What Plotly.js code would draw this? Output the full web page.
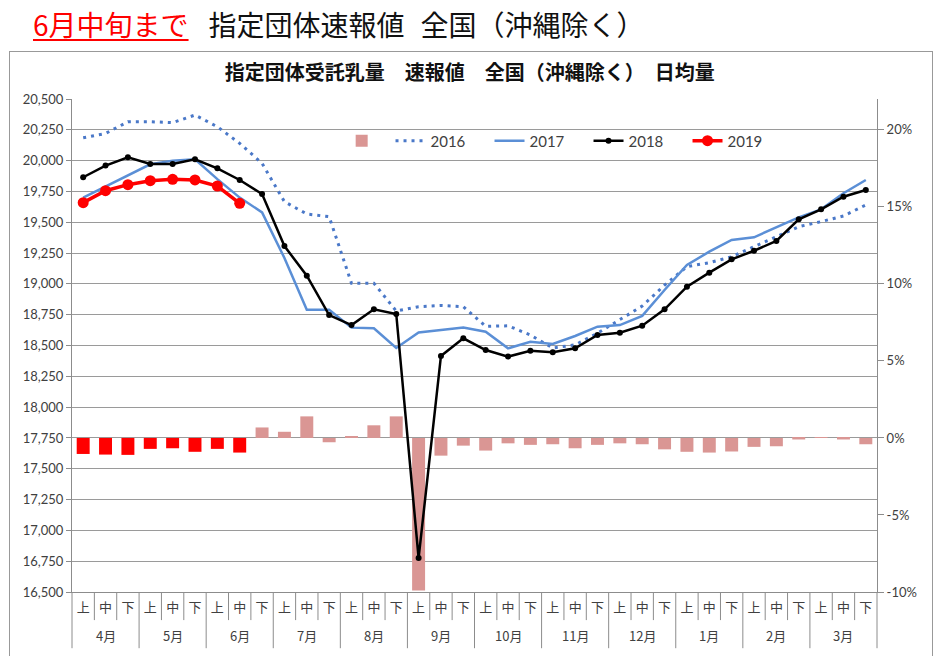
<!DOCTYPE html>
<html>
<head>
<meta charset="utf-8">
<script src="https://cdn.plot.ly/plotly-3.0.1.min.js"></script>
<style>
  body { margin: 0; background: #fff; }
  #head {
    position: absolute; left: 33px; top: 4px;
    font-family: 'Noto Sans CJK JP', sans-serif; font-size: 28px; color: #111;
    white-space: nowrap; line-height: 40px;
  }
  #head .red { color: #f00; text-decoration: underline; text-decoration-thickness: 2px; text-underline-offset: 3px; }
  #head .b1 { margin-left: 20px; }
  #head .b2 { margin-left: 16px; }
  #frame {
    position: absolute; left: 9px; top: 51px; width: 922px; height: 640px;
    border: 1.5px solid #999;
  }
  #myDiv { position: absolute; left: 0; top: 0; width: 945px; height: 656px; }
</style>
</head>
<body>
<div id="head"><span class="red">6月中旬まで</span><span class="b1">指定団体速報値</span><span class="b2">全国（沖縄除く）</span></div>
<div id="frame"></div>
<div id="myDiv"></div>
<script>
var months = ['4月', '5月', '6月', '7月', '8月', '9月', '10月', '11月', '12月', '1月', '2月', '3月'];
var periods = ['上', '中', '下'];

var y2016 = [20185, 20220, 20316, 20316, 20308, 20370, 20275, 20140, 19978, 19667, 19567, 19545,
             19005, 19005, 18780, 18815, 18825, 18815, 18655, 18660, 18585, 18480, 18505, 18600,
             18710, 18820, 18990, 19140, 19172, 19220, 19302, 19383, 19464, 19505, 19551, 19640];
var y2017 = [19700, 19790, 19880, 19970, 20000, 20010, 19850, 19700, 19580, 19210, 18790, 18790,
             18645, 18640, 18480, 18605, 18625, 18645, 18612, 18477, 18531, 18512, 18577, 18653,
             18666, 18740, 18950, 19153, 19261, 19356, 19378, 19459, 19540, 19605, 19735, 19843];
var y2018 = [19865, 19960, 20027, 19973, 19973, 20011, 19938, 19843, 19729, 19307, 19066, 18747,
             18666, 18794, 18756, 16775, 18415, 18558, 18463, 18410, 18458, 18445, 18477, 18585,
             18603, 18661, 18794, 18977, 19091, 19199, 19269, 19348, 19524, 19605, 19707, 19762];
var y2019 = [19659, 19756, 19805, 19837, 19848, 19843, 19794, 19654];
// 前年比 (%)
var growth = [-1.04, -1.08, -1.1, -0.71, -0.67, -0.9, -0.71, -0.95, 0.68, 0.4, 1.4, -0.28,
              0.1, 0.82, 1.4, -9.9, -1.15, -0.5, -0.82, -0.35, -0.45, -0.41, -0.67, -0.45,
              -0.35, -0.41, -0.74, -0.9, -0.95, -0.88, -0.58, -0.54, -0.1, 0.02, -0.1, -0.41];
var pctTicks = [-10, -5, 0, 5, 10, 15, 20];

// カテゴリ: 「4月上」…、目盛には上中下だけ出す
var xKeys = [], xPeriod = [];
months.forEach(function (m) {
  periods.forEach(function (p) { xKeys.push(m + p); xPeriod.push(p); });
});
var n = xKeys.length;
var n19 = y2019.length;

var growthOld = growth.map(function (v, i) { return i < n19 ? null : v; });
var growthNew = growth.map(function (v, i) { return i < n19 ? v : null; });

var font = 'Lato, "Noto Sans CJK JP", sans-serif';
var cjk = '"Noto Sans CJK JP", sans-serif';
var sp = '\u00a0\u00a0\u00a0\u00a0\u00a0';

var barOld = {
  x: xKeys, y: growthOld, name: '\u00a0', type: 'bar', yaxis: 'y',
  marker: {color: '#da9694'}, width: 0.58
};
var barNew = {
  x: xKeys, y: growthNew, name: '2019比', type: 'bar', yaxis: 'y', showlegend: false,
  marker: {color: '#ff0000'}, width: 0.58
};
var trace1 = {
  x: xKeys, y: y2016, name: '2016' + sp, type: 'scatter', mode: 'lines', yaxis: 'y2',
  line: {color: '#4a78c8', width: 3, dash: '3px,5px'}
};
var trace2 = {
  x: xKeys, y: y2017, name: '2017' + sp, type: 'scatter', mode: 'lines', yaxis: 'y2',
  line: {color: '#5b8fd6', width: 2.5}
};
var trace3 = {
  x: xKeys, y: y2018, name: '2018' + sp, type: 'scatter', mode: 'lines+markers', yaxis: 'y2',
  line: {color: '#000', width: 2.5}, marker: {color: '#000', size: 6}
};
var trace4 = {
  x: xKeys.slice(0, n19), y: y2019, name: '2019', type: 'scatter', mode: 'lines+markers', yaxis: 'y2',
  line: {color: '#ff0000', width: 3.5}, marker: {color: '#ff0000', size: 11}
};
var data = [barOld, barNew, trace1, trace2, trace3, trace4];

// 区切り線(旬ごと短く、月ごと長く)と月ラベル
var shapes = [];
for (var k = 0; k <= n; k++) {
  var isMonth = k % periods.length === 0;
  shapes.push({type: 'line', xref: 'paper', yref: 'paper', x0: k / n, x1: k / n,
               y0: 0, y1: isMonth ? -0.114 : -0.057, line: {color: '#8c8c8c', width: 1}});
}
var annotations = months.map(function (m) {
  return {xref: 'x', yref: 'paper', x: m + periods[1], y: -0.089, yanchor: 'middle',
          text: m, showarrow: false, font: {family: cjk, size: 13, color: '#404040'}};
});

var layout = {
  width: 945, height: 656,
  margin: {l: 72, r: 68, t: 99, b: 64},
  paper_bgcolor: 'rgba(0,0,0,0)', plot_bgcolor: 'rgba(0,0,0,0)',
  font: {family: font, size: 13, color: '#404040'},
  title: {
    text: '<b>指定団体受託乳量　速報値　全国（沖縄除く）　日均量</b>',
    font: {family: cjk, size: 20, color: '#111'},
    x: 0.497, xanchor: 'center', y: 0.889, yanchor: 'middle', xref: 'container', yref: 'container'
  },
  showlegend: true,
  legend: {
    orientation: 'h', x: 0.335, xanchor: 'left', y: 0.915, yanchor: 'middle',
    font: {family: font, size: 15, color: '#404040'}, bgcolor: 'rgba(0,0,0,0)', traceorder: 'normal'
  },
  barmode: 'overlay',
  xaxis: {
    type: 'category', range: [-0.5, n - 0.5], autorange: false,
    tickvals: xKeys, ticktext: xPeriod, ticks: '', ticklabelstandoff: 3,
    showline: true, linecolor: '#8c8c8c', linewidth: 1,
    tickfont: {family: cjk, size: 13, color: '#404040'},
    showgrid: false
  },
  yaxis: {
    side: 'right', range: [-10, 22], tickvals: pctTicks,
    ticktext: pctTicks.map(function (v) { return v + '%'; }),
    showgrid: false, zeroline: false, showline: true, linecolor: '#8c8c8c',
    ticks: 'outside', ticklen: 6, tickcolor: '#8c8c8c', tickfont: {family: font, size: 13, color: '#404040'}
  },
  yaxis2: {
    overlaying: 'y', side: 'left', range: [16500, 20500], dtick: 250, tickformat: ',d',
    showgrid: true, gridcolor: '#9a9a9a', gridwidth: 1, zeroline: false,
    showline: true, linecolor: '#8c8c8c', ticks: 'outside', ticklen: 5, tickcolor: '#8c8c8c',
    tickfont: {family: font, size: 13, color: '#404040'}
  },
  shapes: shapes,
  annotations: annotations
};

Plotly.newPlot('myDiv', data, layout, {displayModeBar: false});
</script>
</body>
</html>
